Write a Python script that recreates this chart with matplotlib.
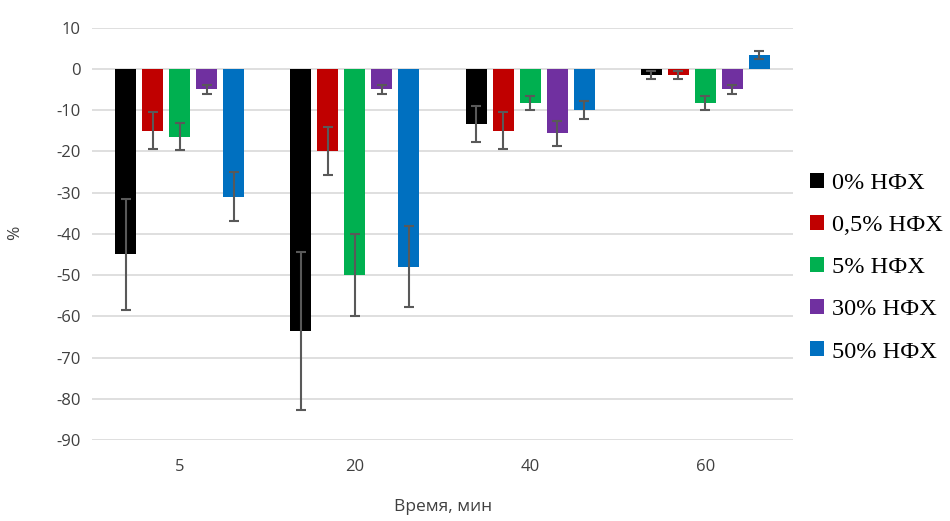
import matplotlib
matplotlib.use("Agg")
import matplotlib.pyplot as plt
import numpy as np

plt.rcParams["axes.unicode_minus"] = False

# Exposure time, minutes
times = ["5", "20", "40", "60"]
series = ["0% НФХ", "0,5% НФХ", "5% НФХ", "30% НФХ", "50% НФХ"]
colors = ["#000000", "#C00000", "#00B050", "#7030A0", "#0070C0"]

# Mean change, % (rows: series, columns: time)
mean_0 = [-45.0, -63.5, -13.4, -1.5]
mean_05 = [-15.0, -20.0, -15.0, -1.5]
mean_5 = [-16.5, -50.0, -8.2, -8.2]
mean_30 = [-5.0, -5.0, -15.6, -5.0]
mean_50 = [-31.0, -48.0, -10.0, 3.4]

# Standard deviations
err_0 = [13.5, 19.2, 4.3, 0.9]
err_05 = [4.5, 5.8, 4.5, 0.9]
err_5 = [3.3, 10.0, 1.7, 1.7]
err_30 = [1.0, 1.0, 3.0, 1.2]
err_50 = [6.0, 9.8, 2.1, 0.9]

means = [mean_0, mean_05, mean_5, mean_30, mean_50]
errs = [err_0, err_05, err_5, err_30, err_50]

fig = plt.figure(figsize=(9.5, 5.21), dpi=100)
ax = fig.add_axes([0.0968, 0.1555, 0.7379, 0.7915])

x = np.arange(len(times))
bar_w = 0.12
step = 0.154
for i, (name, col, m, e) in enumerate(zip(series, colors, means, errs)):
    pos = x + (i - 2) * step
    ax.bar(pos, m, width=bar_w, color=col, label=name, zorder=3)
    ax.errorbar(pos, m, yerr=e, fmt="none", ecolor="#595959",
                elinewidth=1.5, capsize=3.8, capthick=1.5, zorder=4)

ax.set_xlim(-0.5, len(times) - 0.5)
ax.set_ylim(-90, 10)
ax.set_yticks(np.arange(-90, 11, 10))
ax.set_xticks(x)
ax.set_xticklabels(times)
ax.grid(axis="y", color="#D9D9D9", linewidth=1.2, zorder=0)
ax.set_axisbelow(True)
for s in ax.spines.values():
    s.set_visible(False)
ax.tick_params(axis="both", length=0, labelsize=12, labelcolor="#404040",
               pad=8)
for lab in ax.get_xticklabels() + ax.get_yticklabels():
    lab.set_fontfamily("Open Sans")
ax.tick_params(axis="x", pad=14)

fig.text(0.466, 0.027, "Время, мин", ha="center", va="center",
         fontsize=12.5, color="#404040", family="Open Sans")
fig.text(0.016, 0.553, "%", ha="center", va="center", rotation=90,
         fontsize=12.5, color="#404040", family="Open Sans")

ax.legend(loc="upper left", bbox_to_anchor=(1.01, 0.672), frameon=False,
          prop={"family": "Liberation Serif", "size": 17.5},
          handlelength=0.57, handleheight=0.57, handletextpad=0.35,
          labelspacing=0.87, borderaxespad=0)

fig.savefig("out.png", dpi=100)
